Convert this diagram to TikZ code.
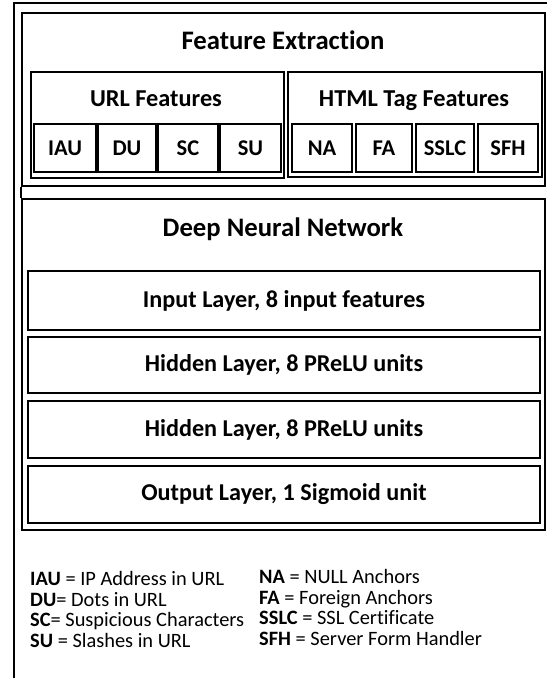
\documentclass[tikz,border=0pt]{standalone}
\usepackage{fontspec}
\setmainfont{Carlito}[Ligatures=NoCommon]
\begin{document}
\begin{tikzpicture}[x=1pt,y=-1pt,
  box/.style={draw, line width=2pt, inner sep=0pt, anchor=north west},
  ttl/.style={font=\fontsize{26.7}{30}\selectfont\bfseries, anchor=base, inner sep=0pt},
  sttl/.style={font=\fontsize{24.3}{28}\selectfont\bfseries, anchor=base, inner sep=0pt},
  lbl/.style={font=\fontsize{22.5}{26}\selectfont\bfseries},
  lay/.style={font=\fontsize{24.2}{28}\selectfont\bfseries},
  leg/.style={font=\fontsize{20.4}{24}\selectfont, anchor=base west, inner sep=0pt}]
\useasboundingbox (0,0) rectangle (547,678);
\fill[white] (0,0) rectangle (547,678);
% outer frame (cropped)
\coordinate (oa) at (14,678);
\coordinate (ob) at (14,2.5);
\coordinate (oc) at (547,2.5);
\draw[line width=2pt] (oa) -- (ob) -- (oc);
% Feature extraction
\node[box, minimum width=523pt, minimum height=173pt] (fe) at (21,12) {};
\node[ttl] (fet) at (283,49.5) {Feature Extraction};
\node[box, minimum width=253pt, minimum height=106pt] (url) at (30,71) {};
\node[sttl] (urlt) at (156,106) {URL Features};
\node[box, minimum width=254pt, minimum height=105pt] (html) at (287,71) {};
\node[sttl] (htmlt) at (414,106) {HTML Tag Features};
% url sub boxes
\node[box, minimum width=62pt, minimum height=48pt] (iau) at (33,123) {};
\node[box, minimum width=58pt, minimum height=48pt] (du) at (97,123) {};
\node[box, minimum width=60pt, minimum height=48pt] (sc) at (157,123) {};
\node[box, minimum width=61pt, minimum height=48pt] (su) at (219,123) {};
\node[lbl] (iaut) at (iau.center) {IAU};
\node[lbl] (dut) at (du.center) {DU};
\node[lbl] (sct) at (sc.center) {SC};
\node[lbl] (sut) at (su.center) {SU};
% html sub boxes
\node[box, minimum width=60pt, minimum height=48pt] (na) at (291,123) {};
\node[box, minimum width=56pt, minimum height=48pt] (fa) at (355,123) {};
\node[box, minimum width=58pt, minimum height=48pt] (sslc) at (415,123) {};
\node[box, minimum width=60pt, minimum height=48pt] (sfh) at (477,123) {};
\node[lbl] (nat) at (na.center) {NA};
\node[lbl] (fat) at (fa.center) {FA};
\node[lbl] (sslct) at (sslc.center) {SSLC};
\node[lbl] (sfht) at (sfh.center) {SFH};
% DNN
\node[box, minimum width=523pt, minimum height=331pt] (dnn) at (21,198) {};
\draw[line width=2pt] (fe.south west) -- (dnn.north west);
\node[ttl] (dnnt) at (283,236) {Deep Neural Network};
\node[box, minimum width=512pt, minimum height=59pt] (inl) at (27,270) {};
\node[lay] (inlt) at (inl.center) {Input Layer, 8 input features};
\node[box, minimum width=512pt, minimum height=56pt] (h1) at (27,336) {};
\node[lay] (h1t) at (h1.center) {Hidden Layer, 8 PReLU units};
\node[box, minimum width=512pt, minimum height=57pt] (h2) at (27,400) {};
\node[lay] (h2t) at (h2.center) {Hidden Layer, 8 PReLU units};
\node[box, minimum width=512pt, minimum height=57pt] (outl) at (27,465) {};
\node[lay] (outlt) at (outl.center) {Output Layer, 1 Sigmoid unit};
% legend
\node[leg] (l1) at (30,585.5) {\textbf{IAU} = IP Address in URL};
\node[leg] (l2) at (30,606.2) {\textbf{DU}= Dots in URL};
\node[leg] (l3) at (30,626.9) {\textbf{SC}= Suspicious Characters};
\node[leg] (l4) at (30,647.6) {\textbf{SU} = Slashes in URL};
\node[leg] (r1) at (259,583.5) {\textbf{NA} = NULL Anchors};
\node[leg] (r2) at (259,604.2) {\textbf{FA} = Foreign Anchors};
\node[leg] (r3) at (259,624.9) {\textbf{SSLC} = SSL Certificate};
\node[leg] (r4) at (259,645.6) {\textbf{SFH} = Server Form Handler};
\end{tikzpicture}
\end{document}
